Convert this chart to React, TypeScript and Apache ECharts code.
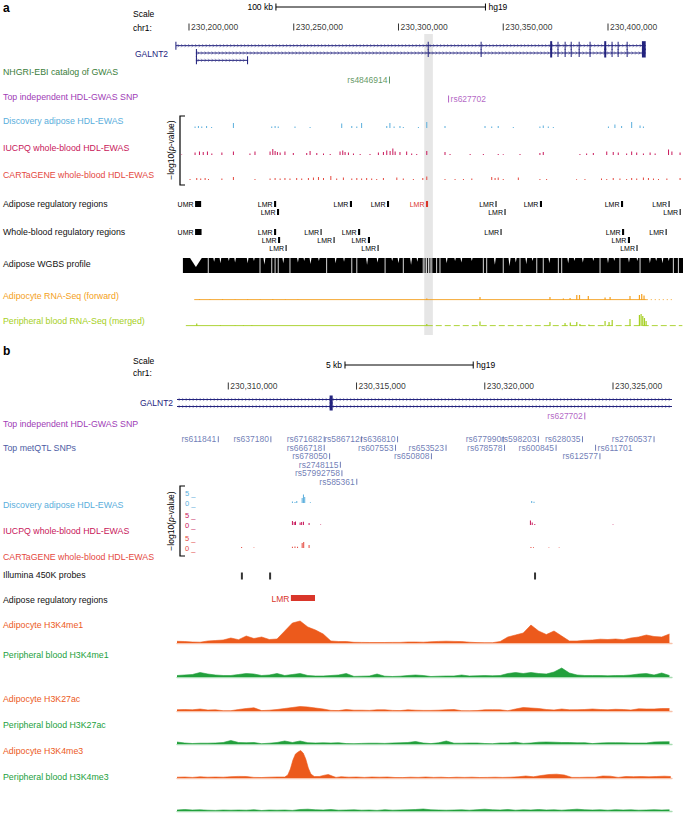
import React, { useEffect, useRef } from 'react';
import * as echarts from 'echarts';

const FONT = '"Liberation Sans", Arial, Helvetica, sans-serif';

// ---------- genomic views (kb on chr1, hg19) ----------
const viewA = [230193.8, 230435.8];
const viewB = [230308.0, 230327.3];

const rulerTicksA = [230200, 230250, 230300, 230350, 230400];
const rulerTicksB = [230310, 230315, 230320, 230325];
const scaleBarA = [230241.5, 230341.5];
const scaleBarB = [230314.55, 230319.55];
const highlightA = [230312.3, 230316.4];

// ---------- GALNT2 gene model ----------
const galnt2Transcripts = [
  [230193.5, 230418.0],
  [230203.3, 230418.0],
  [230203.3, 230228.2],
];
// [start, end, transcript, thick]
const galnt2FirstExons = [
  [230193.5, 230194.0, 0, 0],
  [230203.3, 230203.8, 1, 0],
  [230203.3, 230203.8, 2, 0],
  [230227.7, 230228.2, 2, 0],
];
// shared by transcripts 0 and 1: [start, end, thick]
const galnt2SharedExons = [
  [230313.95, 230314.07, 0],
  [230339.2, 230339.6, 0],
  [230372.4, 230373.3, 1],
  [230375.9, 230376.3, 0],
  [230379.3, 230379.7, 0],
  [230382.2, 230382.6, 0],
  [230386.0, 230386.4, 0],
  [230391.2, 230391.6, 0],
  [230398.2, 230399.1, 1],
  [230401.7, 230402.1, 0],
  [230404.6, 230405.0, 0],
  [230408.9, 230409.3, 0],
  [230416.2, 230418.0, 1],
];

// ---------- SNPs ----------
const gwasSnpsA = [['rs4846914', 230295.7]];
const hdlSnp = [['rs627702', 230323.9]];
// [id, position kb, row, label side]
const metqtlSnps = [
  ['rs611841', 230309.61, 0, 'L'], ['rs637180', 230311.66, 0, 'L'], ['rs671682', 230313.74, 0, 'L'],
  ['rs586712', 230315.2, 0, 'L'], ['rs636810', 230316.6, 0, 'L'], ['rs677990', 230320.72, 0, 'L'],
  ['rs598203', 230322.09, 0, 'L'], ['rs628035', 230323.81, 0, 'L'], ['rs2760537', 230326.6, 0, 'L'],
  ['rs666718', 230313.74, 1, 'L'], ['rs607553', 230316.52, 1, 'L'], ['rs653523', 230318.49, 1, 'L'],
  ['rs678578', 230320.77, 1, 'L'], ['rs600845', 230322.78, 1, 'L'], ['rs611701', 230324.32, 1, 'R'],
  ['rs678050', 230313.95, 2, 'L'], ['rs650808', 230317.92, 2, 'L'], ['rs612577', 230324.49, 2, 'L'],
  ['rs2748115', 230314.37, 3, 'L'], ['rs57992758', 230314.43, 4, 'L'], ['rs585361', 230315.01, 5, 'L'],
];

// ---------- EWAS (-log10 p), panel a ----------
const ewasAdiposeA = [[230202.9,1.5],[230204.5,2],[230206.1,1.5],[230208.4,2],[230210.8,1],[230221.2,5],[230239.5,1.5],[230241.1,2],[230242.6,1.5],[230250.6,1.5],[230257.8,1],[230272.9,4.5],[230277.7,2],[230280.1,1.5],[230282.4,5],[230294.4,2],[230295.9,5],[230297.9,1.5],[230300.7,2],[230302.3,1],[230309.5,1],[230313.5,6],[230322.2,2],[230341.3,2],[230344.5,1.5],[230347.6,2],[230354.8,1],[230367.5,1.5],[230369.1,2.5],[230371.5,1.5],[230373.9,1],[230400.2,1.5],[230403.3,3.5],[230406.5,2],[230411.3,6],[230415.3,2.5],[230416.9,1.5]];
const ewasIucpqA = [[230196.5,0.6],[230202.9,2.5],[230205.0,3.5],[230206.8,3],[230208.8,3.5],[230210.9,1.5],[230215.7,2.5],[230221.2,3.5],[230229.1,1.5],[230231.5,3.5],[230238.7,3.5],[230240.0,6],[230241.1,4],[230242.2,3],[230243.5,2.5],[230245.8,3.5],[230249.8,2],[230256.2,2],[230257.8,4],[230261.0,2],[230264.2,1.5],[230267.4,1],[230272.1,3.5],[230273.4,4.5],[230274.5,3],[230276.1,2.5],[230278.5,1.5],[230281.7,1],[230286.4,1],[230290.4,2.5],[230292.8,3],[230294.4,4.5],[230296.0,4],[230297.3,6.5],[230298.4,3.5],[230300.7,3],[230303.9,3.5],[230306.3,1.5],[230308.7,1],[230313.5,4],[230322.2,3],[230324.6,1],[230334.2,1],[230340.5,1],[230347.6,1],[230350.0,0.8],[230358.0,1],[230367.5,2],[230369.1,3],[230386.6,1],[230389.8,1.5],[230393.0,2],[230399.4,3.5],[230402.5,3],[230404.9,2.5],[230408.9,1.5],[230411.3,3.5],[230413.7,2.5],[230416.9,1.5],[230420.1,2.5],[230422.5,1.5],[230428.9,5.5],[230430.5,3.5],[230434.4,2.5]];
const ewasCartageneA = [[230200.5,1],[230203.7,2],[230205.6,1.5],[230207.7,2],[230209.3,1],[230215.7,1.5],[230221.2,3],[230231.5,1],[230238.7,1.5],[230241.1,2],[230243.5,1.5],[230245.8,2],[230248.2,1.5],[230251.4,2],[230253.8,1.5],[230257.0,2],[230259.4,2.5],[230261.8,3],[230264.2,2],[230267.7,4],[230270.5,1.5],[230273.7,2.5],[230277.7,1.5],[230280.1,2],[230282.4,1.5],[230284.8,2],[230287.2,1.5],[230289.6,1],[230292.8,2],[230299.2,2.5],[230302.3,1.5],[230307.1,1],[230311.6,2],[230313.5,3.5],[230322.2,1],[230327.0,1],[230331.0,1],[230335.0,1.5],[230344.5,3],[230346.1,2],[230347.6,2.5],[230350.0,1],[230357.2,2.5],[230367.5,1],[230370.7,1],[230385.0,0.8],[230389.0,1],[230396.9,1.5],[230399.4,1],[230402.5,2],[230405.7,1.5],[230408.9,1],[230411.3,2],[230413.7,1.5],[230416.9,2.5],[230419.3,2],[230421.7,1.5],[230424.1,1],[230428.1,1.5],[230434.4,2]];

// ---------- EWAS (-log10 p), panel b ----------
const ewasAdiposeB = [[230312.5,0.8],[230312.6,0.5],[230312.67,1],[230312.88,2.5],[230312.93,4.2],[230312.98,3],[230313.2,0.4],[230321.83,1],[230321.92,0.6]];
const ewasIucpqB = [[230312.5,2],[230312.57,1.5],[230312.62,1.8],[230312.8,1.2],[230312.86,1.5],[230312.93,1.6],[230313.15,1],[230313.6,0.3],[230321.78,2.2],[230321.85,1.2],[230321.95,0.5],[230325.0,0.3]];
const ewasCartageneB = [[230310.52,0.5],[230311.0,0.3],[230312.5,0.6],[230312.6,0.8],[230312.7,0.6],[230312.88,2.5],[230312.94,3],[230313.15,1.5],[230321.8,0.5],[230321.9,0.4],[230322.5,0.3],[230322.9,0.3]];

// ---------- regulatory regions [label, start, end, row, red] ----------
const adiposeRegionsA = [
  ['UMR', 230202.9, 230205.8, 0, 0], ['LMR', 230240.6, 230241.6, 0, 0], ['LMR', 230242.0, 230243.0, 1, 0],
  ['LMR', 230276.8, 230277.8, 0, 0], ['LMR', 230294.5, 230295.5, 0, 0], ['LMR', 230313.1, 230314.1, 0, 1],
  ['LMR', 230346.3, 230346.8, 0, 0], ['LMR', 230350.6, 230351.1, 1, 0], ['LMR', 230367.5, 230368.5, 0, 0],
  ['LMR', 230406.2, 230407.2, 0, 0], ['LMR', 230428.9, 230429.4, 0, 0], ['LMR', 230434.2, 230434.7, 1, 0],
];
const bloodRegionsA = [
  ['UMR', 230202.9, 230206.0, 0, 0], ['LMR', 230240.6, 230241.6, 0, 0], ['LMR', 230242.5, 230243.5, 1, 0],
  ['LMR', 230246.1, 230246.6, 2, 0], ['LMR', 230262.8, 230263.3, 0, 0], ['LMR', 230269.0, 230269.5, 1, 0],
  ['LMR', 230280.7, 230281.7, 0, 0], ['LMR', 230285.4, 230286.4, 1, 0], ['LMR', 230290.0, 230290.5, 2, 0],
  ['LMR', 230348.7, 230349.2, 0, 0], ['LMR', 230406.7, 230407.7, 0, 0], ['LMR', 230409.5, 230410.5, 1, 0],
  ['LMR', 230413.6, 230414.1, 2, 0], ['LMR', 230427.5, 230428.0, 0, 0],
];
const adiposeRegionsB = [['LMR', 230312.44, 230313.38, 0, 1]];
const illuminaProbes = [230310.53, 230311.63, 230321.96];

// ---------- adipose WGBS ----------
const wgbsSpan = [230197.1, 230435.8];
const wgbsGaps = [230209.2, 230233.9, 230239.5, 230241.1, 230242.6, 230248.2, 230265.7, 230277.7, 230280.1, 230293.6, 230302.3, 230311.8, 230312.6, 230313.4, 230314.3, 230315.1, 230315.9, 230318.2, 230319.8, 230340.5, 230342.1, 230350.0, 230358.0, 230366.0, 230369.1, 230376.3, 230377.9, 230396.2, 230405.7, 230415.3, 230431.2, 230433.6];
// [centre kb, depth (fraction), width kb]
const wgbsDips = [[230203.3,0.6,5.6],[230212,0.25,0.8],[230215,0.35,0.8],[230219,0.2,0.7],[230222,0.3,0.8],[230228,0.35,0.8],[230231,0.2,0.7],[230236,0.45,0.9],[230245,0.35,0.8],[230252,0.3,0.8],[230255,0.2,0.7],[230258,0.4,0.9],[230262,0.2,0.7],[230270,0.35,0.8],[230274,0.25,0.7],[230285,0.45,0.9],[230290,0.3,0.8],[230297,0.2,0.7],[230300,0.35,0.8],[230306,0.45,0.9],[230309,0.25,0.7],[230323,0.35,0.8],[230327,0.2,0.7],[230330,0.3,0.8],[230335,0.2,0.7],[230346,0.45,0.9],[230353,0.55,1.0],[230356,0.3,0.8],[230361,0.4,0.8],[230364,0.2,0.7],[230372,0.35,0.8],[230381,0.35,0.8],[230384,0.2,0.7],[230388,0.3,0.8],[230393,0.2,0.7],[230400,0.35,0.8],[230403,0.2,0.7],[230410,0.3,0.8],[230414,0.2,0.7],[230420,0.35,0.8],[230423,0.2,0.7],[230426,0.35,0.8],[230429,0.2,0.7]];

// ---------- RNA-seq ----------
const rnaAdipoFwd = [[230205,0.8],[230210,0.6],[230216,0.8],[230222,0.6],[230228,0.8],[230234,0.5],[230240,0.8],[230246,0.6],[230252,0.5],[230313.5,1.5],[230338.9,3],[230372.3,3],[230378.7,1.5],[230381.9,2],[230385.1,5],[230386.4,5],[230390.6,4],[230398.6,2.5],[230401.0,3],[230410.5,4],[230415.0,5],[230416.1,6],[230417.2,4.5]];
const rnaAdipoFwdSolid = [230202.5, 230418.5];
const rnaAdipoFwdDotted = [230418.5, 230431.5];
const rnaBlood = [[230203.7,2.5],[230215,0.8],[230222,0.6],[230226,0.6],[230230,0.8],[230313.5,2],[230338.9,4.5],[230372.3,4],[230379.5,3],[230382,3.5],[230385.1,4],[230386.6,2],[230390.9,1.5],[230398.6,5],[230400.5,4],[230402,6],[230410.5,7],[230415.0,11],[230415.8,12],[230416.6,10],[230417.4,8],[230418.2,5]];
const rnaBloodSolid = [230198.5, 230313.5];
const rnaBloodDashed = [230313.5, 230435.5];

// ---------- histone ChIP-seq, panel b (bins of 0.3 kb from 230,308,000) ----------
const histBinStart = 230308.0;
const histBinSize = 0.3;
const adipoH3K4me1 = [1.7,1.5,1,0.8,2,2.5,3,5,3.3,7, 4.5,6,3.5,4,12,20,22,16,13,9, 2,1.5,1.5,0.7,0.6,0.5,0.5,0.5,0.6,0.6, 1,1,0.8,1.2,1.6,1.8,1.6,1.4,0.8,0.4, 0.3,0.3,1.5,6,8,10,18,12,8.5,12, 7,2,2,2.7,3,3.8,3.5,4,3.3,5, 6,8,6.5,6,9];
const bloodH3K4me1 = [1.5,2,2.5,4.5,3,2,1.5,1.5,2.5,3.5, 3,1.5,2,3.5,1.5,2.5,3.5,1.5,1,1, 1.5,2,3.5,0.6,0.8,1,3,0.8,0.5,0.8, 1.5,2,1.5,0.5,0.8,1,1,2,1,1.2, 1.5,1.2,1.5,3.5,4.5,3.5,4.5,3.5,3,5, 9,4,2,1.5,1.5,1.5,1.2,1.5,1.5,2, 3,3.5,2,4,1.5];
const adipoH3K27ac = [1.3,1.5,1.2,2,1,1.2,0.3,0.3,1.5,2.5, 3.2,0.4,0.8,1.5,2.5,3.5,4.5,4,3,2, 0.6,0.4,1.5,0.8,0.8,0.6,1.2,1.2,0.6,0.4, 1.2,0.8,0.6,0.6,0.8,1.2,1.5,0.3,0.2,0.4, 1.2,1.3,1.2,0.3,2,3.5,3,2.5,1.5,1, 2,1.2,1.3,1.5,2,1.5,1.3,1.7,1.5,1, 2.2,2,2,2.5,2.5];
const bloodH3K27ac = [2,1,0.5,0.8,0.8,1,1.5,3.5,1.5,1.3, 1.5,0.3,0.8,1.5,3,1.5,3,1.3,1,1.2, 1,1.3,0.4,0.3,0.6,0.8,0.8,0.6,1,1.2, 1.5,2.5,1,0.4,1.2,3,0.8,0.8,1,1, 0.5,0.3,1,1,1.8,0.6,1,1.8,2,1.8, 1.5,1.5,1.2,1.3,0.4,1,1.3,1.3,1.2,1, 1,1,2,2.2,2.3];
const bloodH3K4me3 = [1,1.5,1,1.2,0.8,0.6,1,0.8,1,0.8, 1.3,0.5,1,0.8,1,0.6,1.5,1.8,1.2,1, 1.5,0.8,1,1.2,0.8,1,0.6,1.3,0.8,1, 1.2,1.5,2,1.2,1,0.8,1,1.2,0.8,1.3, 1.8,1.2,1,1.5,0.8,1.2,1,1.5,1,1.2, 0.8,1.3,1.8,1.2,1,1.2,0.8,1.3,1,1.2, 0.8,1,1.3,1,1.2];
// [offset kb from 230,308,000, signal]
const adipoH3K4me3 = [[0.0,0.8],[0.3,1],[0.6,0.6],[0.9,1.2],[1.2,0.8],[1.5,1],[1.8,0.8],[2.1,1.3],[2.4,1.6],[2.7,1.5],[3.0,0.6],[3.3,0.5],[3.6,0.8],[3.9,1],[4.2,1],[4.32,3],[4.42,9],[4.52,18],[4.62,24],[4.72,26],[4.82,27.5],[4.92,25],[5.02,19],[5.12,10],[5.22,4],[5.35,1.5],[5.55,1.5],[5.75,2.8],[5.9,3.5],[6.05,2],[6.2,0.6],[6.4,1.3],[6.7,0.8],[7.0,1],[7.3,0.6],[7.6,1],[7.9,0.8],[8.2,1],[8.5,0.5],[8.8,0.4],[9.1,0.8],[9.4,0.6],[9.7,1],[10.0,0.6],[10.3,0.8],[10.6,0.4],[10.9,0.8],[11.2,0.6],[11.5,0.8],[11.8,0.5],[12.1,0.6],[12.4,0.8],[12.7,0.6],[13.0,0.8],[13.3,1.2],[13.6,2],[13.9,1.2],[14.2,2.5],[14.5,3.5],[14.8,3.8],[15.1,3],[15.4,0.6],[15.7,0.6],[16.0,0.8],[16.3,0.8],[16.6,2],[16.9,1.8],[17.2,0.6],[17.5,1.5],[17.8,1.3],[18.1,1.5],[18.4,1.2],[18.7,1.5],[19.0,1.8],[19.25,1.5]];

// ---------- colours ----------
const C = {
  gene: '#23237e', gwas: '#3a7d3a', hdl: '#a03cb6', adipoEwas: '#5aaedc', iucpq: '#c8175a',
  cartagene: '#e4493f', rnaAdipo: '#f4a020', rnaBlood: '#a6cf24', metqtl: '#4c5ca4',
  histAdipo: '#ec5a1c', histAdipoLight: '#f8c2aa', histBlood: '#22a03c', histBloodLight: '#a8dcb2',
  lmrRed: '#d9362a', hl: '#e6e6e6',
};

// ---------- left-hand track labels ----------
const labelsA = [
  ['NHGRI-EBI catalog of GWAS', C.gwas, 72], ['Top independent HDL-GWAS SNP', C.hdl, 97],
  ['Discovery adipose HDL-EWAS', C.adipoEwas, 121], ['IUCPQ whole-blood HDL-EWAS', C.iucpq, 148],
  ['CARTaGENE whole-blood HDL-EWAS', C.cartagene, 175], ['Adipose regulatory regions', '#111', 204],
  ['Whole-blood regulatory regions', '#111', 232], ['Adipose WGBS profile', '#111', 264],
  ['Adipocyte RNA-Seq (forward)', C.rnaAdipo, 296], ['Peripheral blood RNA-Seq (merged)', C.rnaBlood, 321],
];
const labelsB = [
  ['Top independent HDL-GWAS SNP', C.hdl, 424], ['Top metQTL SNPs', C.metqtl, 448],
  ['Discovery adipose HDL-EWAS', C.adipoEwas, 505], ['IUCPQ whole-blood HDL-EWAS', C.iucpq, 531],
  ['CARTaGENE whole-blood HDL-EWAS', C.cartagene, 557], ['Illumina 450K probes', '#111', 575],
  ['Adipose regulatory regions', '#111', 600], ['Adipocyte H3K4me1', C.histAdipo, 625],
  ['Peripheral blood H3K4me1', C.histBlood, 655], ['Adipocyte H3K27ac', C.histAdipo, 699],
  ['Peripheral blood H3K27ac', C.histBlood, 725], ['Adipocyte H3K4me3', C.histAdipo, 751],
  ['Peripheral blood H3K4me3', C.histBlood, 777],
];

function buildOption() {
  const grid: any[] = [];
  const xAxis: any[] = [];
  const yAxis: any[] = [];
  const series: any[] = [];

  const addGrid = (panel: string, top: number, height: number, ymin: number, ymax: number, o: any = {}) => {
    const i = grid.length;
    const view = panel === 'a' ? viewA : viewB;
    grid.push({ left: panel === 'a' ? 176 : 177, width: panel === 'a' ? 507 : 495, top, height });
    xAxis.push({
      type: 'value', gridIndex: i, min: view[0], max: view[1], show: !!o.baseline,
      axisLine: { show: !!o.baseline, onZero: false, lineStyle: { color: o.baseline || '#000', width: 1.3 } },
      axisTick: { show: false }, axisLabel: { show: false }, splitLine: { show: false },
    });
    yAxis.push(Object.assign({
      type: 'value', gridIndex: i, min: ymin, max: ymax, inverse: !!o.inverse, show: false,
      splitLine: { show: false },
    }, o.yAxis || {}));
    return i;
  };

  const spikes = (gi: number, data: number[][], color: string, w = 1) => ({
    type: 'custom', xAxisIndex: gi, yAxisIndex: gi, data, silent: true, z: 3,
    renderItem: (params: any, api: any) => {
      const p0 = api.coord([api.value(0), 0]);
      const p1 = api.coord([api.value(0), api.value(1)]);
      return { type: 'rect', shape: { x: p0[0] - w / 2, y: p1[1], width: w, height: Math.max(0.6, p0[1] - p1[1]) }, style: { fill: color } };
    },
  });

  const regions = (gi: number, data: any[], h: number, fs: number) => ({
    type: 'custom', xAxisIndex: gi, yAxisIndex: gi, silent: true, z: 3,
    data: data.map((d) => [d[1], d[2], d[3]]),
    renderItem: (params: any, api: any) => {
      const d = data[params.dataIndex];
      const col = d[4] ? C.lmrRed : '#000';
      const p0 = api.coord([api.value(0), api.value(2)]);
      const p1 = api.coord([api.value(1), api.value(2)]);
      const w = Math.max(1, p1[0] - p0[0]);
      return {
        type: 'group', children: [
          { type: 'rect', shape: { x: p0[0], y: p0[1] - h / 2, width: w, height: h }, style: { fill: col } },
          { type: 'text', x: p0[0] - 1.5, y: p0[1] + 0.5, style: { text: d[0], fill: col, fontSize: fs, fontFamily: FONT, align: 'right', verticalAlign: 'middle' } },
        ],
      };
    },
  });

  const markers = (gi: number, items: any[], color: string, fs: number, h = 7) => ({
    type: 'scatter', xAxisIndex: gi, yAxisIndex: gi, silent: true, symbol: 'rect', symbolSize: [1, h], z: 3,
    itemStyle: { color },
    data: items.map((it) => ({
      name: it.name, value: [it.x, it.row],
      label: { show: true, position: it.side === 'R' ? 'right' : 'left', distance: 1.5, formatter: '{b}', color: it.labelColor || color, fontSize: fs, fontFamily: FONT },
    })),
  });

  const scaleBar = (gi: number, bar: number[], left: string) => ({
    type: 'custom', xAxisIndex: gi, yAxisIndex: gi, silent: true, data: [[bar[0], bar[1]]],
    renderItem: (params: any, api: any) => {
      const p0 = api.coord([api.value(0), 0.5]);
      const p1 = api.coord([api.value(1), 0.5]);
      const y = p0[1];
      const st = { stroke: '#000', lineWidth: 1 };
      return {
        type: 'group', children: [
          { type: 'line', shape: { x1: p0[0], y1: y, x2: p1[0], y2: y }, style: st },
          { type: 'line', shape: { x1: p0[0], y1: y - 3.5, x2: p0[0], y2: y + 3.5 }, style: st },
          { type: 'line', shape: { x1: p1[0], y1: y - 3.5, x2: p1[0], y2: y + 3.5 }, style: st },
          { type: 'text', x: p0[0] - 3, y, style: { text: left, fill: '#000', fontSize: 8.5, fontFamily: FONT, align: 'right', verticalAlign: 'middle' } },
          { type: 'text', x: p1[0] + 3, y, style: { text: 'hg19', fill: '#000', fontSize: 8.5, fontFamily: FONT, align: 'left', verticalAlign: 'middle' } },
        ],
      };
    },
  });

  const gene = (gi: number, tx: number[][], exons: number[][], exH: number) => [
    {
      type: 'custom', xAxisIndex: gi, yAxisIndex: gi, silent: true, z: 3,
      data: tx.map((t, i) => [t[0], t[1], i]),
      renderItem: (params: any, api: any) => {
        const cs = params.coordSys;
        const a = api.coord([api.value(0), api.value(2)]);
        const b = api.coord([api.value(1), api.value(2)]);
        const x0 = Math.max(a[0], cs.x);
        const x1 = Math.min(b[0], cs.x + cs.width);
        const y = a[1];
        const children: any[] = [{ type: 'line', shape: { x1: x0, y1: y, x2: x1, y2: y }, style: { stroke: C.gene, lineWidth: 1 } }];
        for (let x = x0 + 3; x < x1 - 1; x += 3.5) {
          children.push({ type: 'polyline', shape: { points: [[x - 1.3, y - 1.6], [x, y], [x - 1.3, y + 1.6]] }, style: { stroke: C.gene, lineWidth: 0.6, fill: null, opacity: 0.75 } });
        }
        return { type: 'group', children };
      },
    },
    {
      type: 'custom', xAxisIndex: gi, yAxisIndex: gi, silent: true, z: 4,
      data: exons,
      renderItem: (params: any, api: any) => {
        const a = api.coord([api.value(0), api.value(2)]);
        const b = api.coord([api.value(1), api.value(2)]);
        const thick = api.value(3) > 0;
        const w = Math.max(thick ? 2 : 1, b[0] - a[0]);
        const h = thick ? exH + 1 : exH;
        return { type: 'rect', shape: { x: a[0], y: a[1] - h / 2, width: w, height: h }, style: { fill: C.gene } };
      },
    },
  ];

  const area = (gi: number, data: number[][], color: string) => ({
    type: 'line', xAxisIndex: gi, yAxisIndex: gi, silent: true, data, showSymbol: false, symbol: 'none',
    lineStyle: { width: 0.6, color }, areaStyle: { color, opacity: 1 }, itemStyle: { color }, z: 3,
  });

  const hline = (gi: number, span: number[], y: number, color: string, type: any = 'solid', width = 1) => ({
    type: 'line', xAxisIndex: gi, yAxisIndex: gi, silent: true, symbol: 'none',
    data: [[span[0], y], [span[1], y]], lineStyle: { color, width, type }, z: 3,
  });

  // ================= PANEL A =================
  const gHL = addGrid('a', 34, 301, 0, 1);
  series.push({
    type: 'custom', xAxisIndex: gHL, yAxisIndex: gHL, silent: true, z: 0, data: [highlightA],
    renderItem: (params: any, api: any) => {
      const cs = params.coordSys;
      const a = api.coord([api.value(0), 0]);
      const b = api.coord([api.value(1), 0]);
      return { type: 'rect', shape: { x: a[0], y: cs.y, width: b[0] - a[0], height: cs.height }, style: { fill: C.hl } };
    },
  });

  const gScaleA = addGrid('a', 2, 10, 0, 1);
  series.push(scaleBar(gScaleA, scaleBarA, '100 kb'));

  const gRulerA = addGrid('a', 22, 10, 0, 1);
  series.push(markers(gRulerA, rulerTicksA.map((t) => ({ name: Math.round(t * 1000).toLocaleString('en-US'), x: t, row: 0.5, side: 'R' })), '#000', 8.5, 7));

  const gGeneA = addGrid('a', 42, 22, -0.5, 2.5, { inverse: true });
  const exonsA: number[][] = [...galnt2FirstExons];
  for (const r of [0, 1]) for (const e of galnt2SharedExons) exonsA.push([e[0], e[1], r, e[2]]);
  series.push(...gene(gGeneA, galnt2Transcripts, exonsA, 8));

  const gGwas = addGrid('a', 76, 8, 0, 1);
  series.push(markers(gGwas, gwasSnpsA.map((s) => ({ name: s[0], x: s[1], row: 0.5, side: 'L' })), C.gwas, 8.5));

  const gHdlA = addGrid('a', 95, 8, 0, 1);
  series.push(markers(gHdlA, hdlSnp.map((s) => ({ name: s[0], x: s[1], row: 0.5, side: 'R' })), C.hdl, 8.5));

  const gEwA1 = addGrid('a', 108, 20, 0, 20);
  series.push(spikes(gEwA1, ewasAdiposeA, C.adipoEwas));
  const gEwA2 = addGrid('a', 135, 20, 0, 20);
  series.push(spikes(gEwA2, ewasIucpqA, C.iucpq));
  const gEwA3 = addGrid('a', 160, 20, 0, 20);
  series.push(spikes(gEwA3, ewasCartageneA, C.cartagene));

  const gRegA1 = addGrid('a', 200, 16, -0.5, 1.5, { inverse: true });
  series.push(regions(gRegA1, adiposeRegionsA, 6, 7));
  const gRegA2 = addGrid('a', 228, 24, -0.5, 2.5, { inverse: true });
  series.push(regions(gRegA2, bloodRegionsA, 6, 7));

  const gWgbs = addGrid('a', 258, 15, 0, 1);
  series.push({
    type: 'custom', xAxisIndex: gWgbs, yAxisIndex: gWgbs, silent: true, z: 3, data: [wgbsSpan],
    renderItem: (params: any, api: any) => {
      const a = api.coord([api.value(0), 1]);
      const b = api.coord([api.value(1), 0]);
      return { type: 'rect', shape: { x: a[0], y: a[1], width: b[0] - a[0], height: b[1] - a[1] }, style: { fill: '#000' } };
    },
  });
  series.push({
    type: 'custom', xAxisIndex: gWgbs, yAxisIndex: gWgbs, silent: true, z: 4, data: wgbsGaps.map((g) => [g]),
    renderItem: (params: any, api: any) => {
      const a = api.coord([api.value(0), 1]);
      const b = api.coord([api.value(0), 0]);
      return { type: 'rect', shape: { x: a[0] - 0.5, y: a[1], width: 1, height: b[1] - a[1] }, style: { fill: '#ffffff', opacity: 0.85 } };
    },
  });
  series.push({
    type: 'custom', xAxisIndex: gWgbs, yAxisIndex: gWgbs, silent: true, z: 4, data: wgbsDips,
    renderItem: (params: any, api: any) => {
      const c = api.value(0), d = api.value(1), w = api.value(2);
      const l = api.coord([c - w / 2, 1]);
      const r = api.coord([c + w / 2, 1]);
      const m = api.coord([c, 1 - d]);
      return { type: 'polygon', shape: { points: [l, r, m] }, style: { fill: '#ffffff' } };
    },
  });

  const gRna1 = addGrid('a', 286, 14, 0, 14);
  series.push(hline(gRna1, rnaAdipoFwdSolid, 0.3, C.rnaAdipo, 'solid', 1));
  series.push(hline(gRna1, rnaAdipoFwdDotted, 0.3, C.rnaAdipo, [1, 3], 1));
  series.push(spikes(gRna1, rnaAdipoFwd, C.rnaAdipo, 1.2));
  const gRna2 = addGrid('a', 312, 14, 0, 14);
  series.push(hline(gRna2, rnaBloodSolid, 0.3, C.rnaBlood, 'solid', 1));
  series.push(hline(gRna2, rnaBloodDashed, 0.3, C.rnaBlood, [6, 3], 1));
  series.push(spikes(gRna2, rnaBlood, C.rnaBlood, 1.2));

  // ================= PANEL B =================
  const gScaleB = addGrid('b', 360, 10, 0, 1);
  series.push(scaleBar(gScaleB, scaleBarB, '5 kb'));

  const gRulerB = addGrid('b', 381, 10, 0, 1);
  series.push(markers(gRulerB, rulerTicksB.map((t) => ({ name: Math.round(t * 1000).toLocaleString('en-US'), x: t, row: 0.5, side: 'R' })), '#000', 8.5, 7));

  const gGeneB = addGrid('b', 396, 14, -0.5, 1.5, { inverse: true });
  const exonsB: number[][] = [];
  for (const r of [0, 1]) for (const e of galnt2SharedExons) exonsB.push([e[0], e[1], r, 0]);
  series.push(...gene(gGeneB, galnt2Transcripts.slice(0, 2), exonsB, 8));

  const gHdlB = addGrid('b', 412, 8, 0, 1);
  series.push(markers(gHdlB, hdlSnp.map((s) => ({ name: s[0], x: s[1], row: 0.5, side: 'L' })), C.hdl, 8.5));

  const gMet = addGrid('b', 435, 51, -0.5, 5.5, { inverse: true });
  series.push(markers(gMet, metqtlSnps.map((s) => ({ name: s[0], x: s[1], row: s[2], side: s[3] })), C.metqtl, 8.5, 6));

  const ewasAxis = (color: string) => ({
    yAxis: {
      show: true, interval: 5, axisLine: { show: false }, axisTick: { show: false }, splitLine: { show: false },
      axisLabel: { show: true, inside: true, margin: 8, formatter: (v: number) => v + ' _', color, fontSize: 7.5, fontFamily: FONT },
    },
  });
  const gEwB1 = addGrid('b', 493, 10, 0, 5, ewasAxis(C.adipoEwas));
  series.push(spikes(gEwB1, ewasAdiposeB, C.adipoEwas));
  const gEwB2 = addGrid('b', 515, 10, 0, 5, ewasAxis(C.iucpq));
  series.push(spikes(gEwB2, ewasIucpqB, C.iucpq));
  const gEwB3 = addGrid('b', 538, 10, 0, 5, ewasAxis(C.cartagene));
  series.push(spikes(gEwB3, ewasCartageneB, C.cartagene));

  const gIll = addGrid('b', 572, 8, 0, 1);
  series.push({ type: 'scatter', xAxisIndex: gIll, yAxisIndex: gIll, silent: true, symbol: 'rect', symbolSize: [2, 7], itemStyle: { color: '#000' }, data: illuminaProbes.map((p) => [p, 0.5]) });

  const gRegB = addGrid('b', 594, 8, -0.5, 0.5, { inverse: true });
  series.push(regions(gRegB, adiposeRegionsB, 6, 8.5));

  const bins = (vals: number[]) => vals.map((v, i) => [histBinStart + i * histBinSize, v]);
  const hist: [number, any[], string, string][] = [
    [643, bins(adipoH3K4me1), C.histAdipo, C.histAdipoLight],
    [677, bins(bloodH3K4me1), C.histBlood, C.histBloodLight],
    [711, bins(adipoH3K27ac), C.histAdipo, C.histAdipoLight],
    [744, bins(bloodH3K27ac), C.histBlood, C.histBloodLight],
    [778, adipoH3K4me3.map((p) => [histBinStart + p[0], p[1]]), C.histAdipo, C.histAdipoLight],
    [811, bins(bloodH3K4me3), C.histBlood, C.histBloodLight],
  ];
  for (const [base, data, col, light] of hist) {
    const g = addGrid('b', base - 28, 28, 0, 28, { baseline: light });
    series.push(area(g, data, col));
  }

  // ================= graphic decorations =================
  const graphic: any[] = [];
  const txt = (text: string, x: number, y: number, fill: string, fs = 9, extra: any = {}) =>
    graphic.push({ type: 'text', x, y, silent: true, style: Object.assign({ text, fill, fontSize: fs, fontFamily: FONT, align: 'left', verticalAlign: 'middle' }, extra) });

  txt('a', 3, 8, '#000', 12, { fontWeight: 'bold' });
  txt('b', 3, 351, '#000', 12, { fontWeight: 'bold' });
  txt('Scale', 133, 14, '#000', 8.5);
  txt('chr1:', 133, 28, '#000', 8.5);
  txt('Scale', 133, 361, '#000', 8.5);
  txt('chr1:', 133, 373, '#000', 8.5);
  txt('GALNT2', 135, 54, C.gene, 8.5);
  txt('GALNT2', 140, 403, C.gene, 8.5);
  for (const [t, col, y] of labelsA) txt(t as string, 3, y as number, col as string, 8.8);
  for (const [t, col, y] of labelsB) txt(t as string, 3, y as number, col as string, 8.8);

  const bracket = (y0: number, y1: number, ty: number) => {
    graphic.push({ type: 'polyline', silent: true, shape: { points: [[185, y0], [180, y0], [180, y1], [185, y1]] }, style: { stroke: '#000', lineWidth: 1.2, fill: null } });
    graphic.push({
      type: 'text', x: 171, y: ty, rotation: Math.PI / 2, silent: true,
      style: {
        text: '{a|−log10(}{b|p}{a|-value)}', align: 'center', verticalAlign: 'middle',
        rich: { a: { fontSize: 8.5, fontFamily: FONT, fill: '#000' }, b: { fontSize: 8.5, fontFamily: FONT, fontStyle: 'italic', fill: '#000' } },
      },
    });
  };
  bracket(116, 185, 150);
  bracket(486, 556, 521);

  return {
    animation: false,
    backgroundColor: '#ffffff',
    textStyle: { fontFamily: FONT },
    grid, xAxis, yAxis, series, graphic,
  };
}

export default function App() {
  const ref = useRef<HTMLDivElement>(null);
  useEffect(() => {
    document.body.style.margin = '0';
    const chart = echarts.init(ref.current as HTMLDivElement, null, { renderer: 'svg' });
    chart.setOption(buildOption() as any);
    return () => chart.dispose();
  }, []);
  return <div ref={ref} style={{ width: 683, height: 813 }} />;
}
